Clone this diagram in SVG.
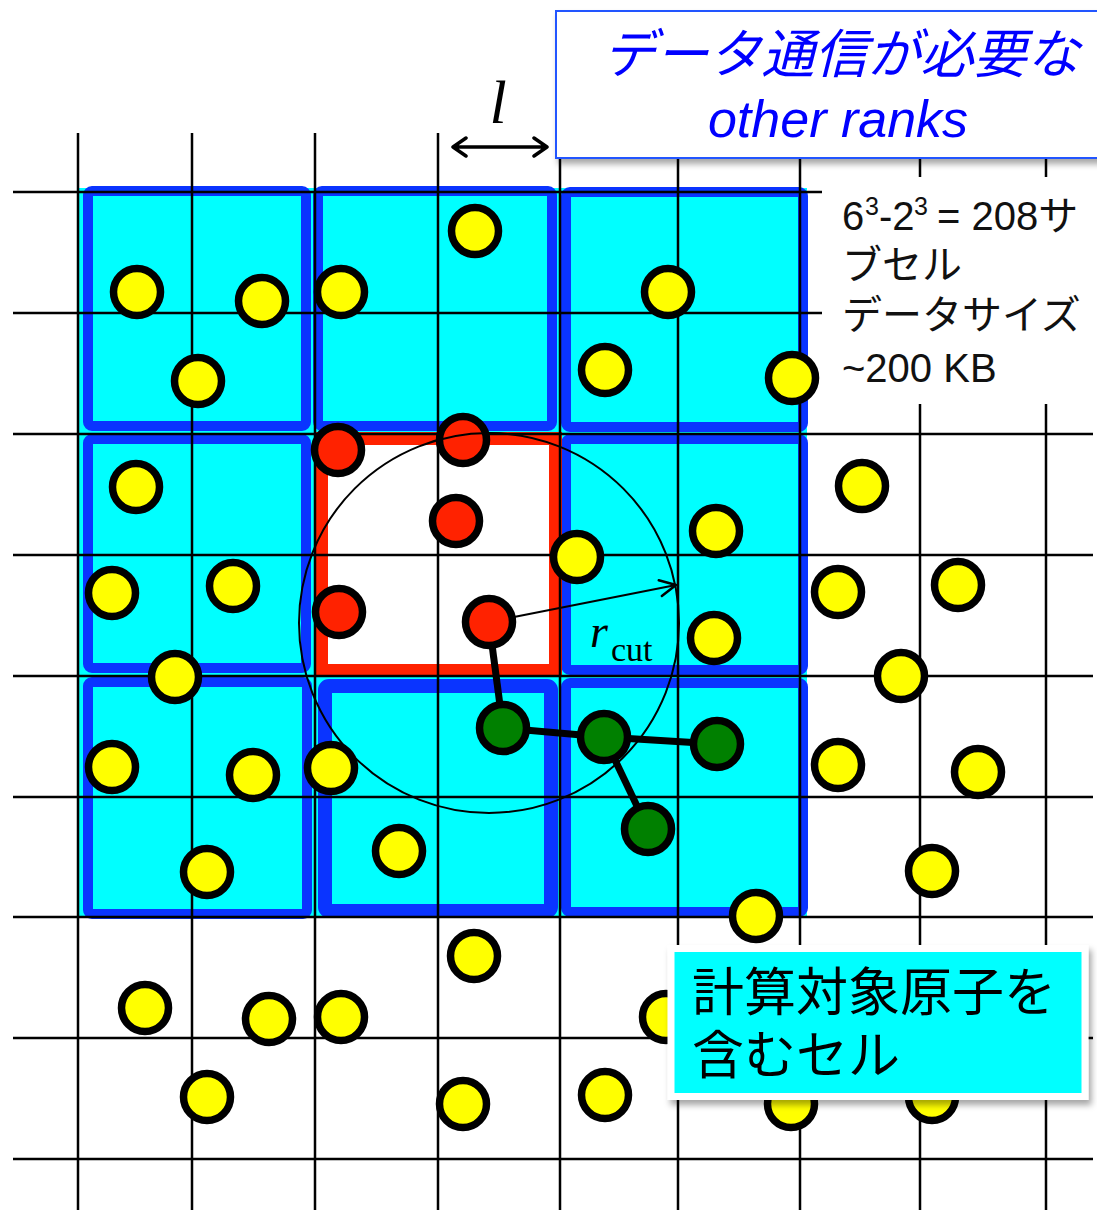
<svg xmlns="http://www.w3.org/2000/svg" width="1097" height="1210" viewBox="0 0 1097 1210">
<defs>
<filter id="sh" x="-10%" y="-10%" width="130%" height="140%">
<feDropShadow dx="3" dy="5" stdDeviation="3" flood-color="#000" flood-opacity="0.35"/>
</filter>
<marker id="ah" viewBox="0 0 20 20" refX="18" refY="10" markerWidth="20" markerHeight="20" markerUnits="userSpaceOnUse" orient="auto">
<path d="M2,2 L18,10 L2,18" fill="none" stroke="#000" stroke-width="2.5" stroke-linecap="round" stroke-linejoin="round"/>
</marker>
</defs>
<style>
.blk{fill:none;stroke:#0a34ff;stroke-width:10}
.g{stroke:#000;stroke-width:2.5}
.y{fill:#ffff00;stroke:#000;stroke-width:7.5}
.r{fill:#ff2200;stroke:#000;stroke-width:7.5}
.gr{fill:#008000;stroke:#000;stroke-width:7.5}
.bond{stroke:#000;stroke-width:7}
.jp{font-family:"Noto Sans CJK JP","Liberation Sans",sans-serif}
.lat{font-family:"Liberation Sans","Noto Sans CJK JP",sans-serif}
</style>
<rect width="1097" height="1210" fill="#fff"/>
<g id="cells">
<rect x="79" y="188" width="728" height="730" fill="#00ffff"/>
<rect x="321" y="438" width="235" height="233" fill="#fff"/>
<rect class="blk" x="88" y="191" width="218" height="235" rx="4"/>
<rect class="blk" x="318" y="191" width="234" height="235" rx="4"/>
<rect class="blk" x="566" y="192" width="237" height="235" rx="4"/>
<rect class="blk" x="88" y="439" width="218" height="229" rx="4"/>
<rect class="blk" x="566" y="439" width="237" height="231" rx="4"/>
<rect class="blk" x="88" y="682" width="219" height="232" rx="4"/>
<rect class="blk" x="325" y="686" width="226" height="225" rx="4" style="stroke-width:14"/>
<rect class="blk" x="566" y="683" width="237" height="229" rx="4"/>
<rect x="321.5" y="438.5" width="234" height="232" fill="none" stroke="#ff2200" stroke-width="13"/>
</g>
<g id="grid" class="g">
<line x1="13" y1="192" x2="1093" y2="192"/>
<line x1="13" y1="313" x2="1093" y2="313"/>
<line x1="13" y1="434" x2="1093" y2="434"/>
<line x1="13" y1="555" x2="1093" y2="555"/>
<line x1="13" y1="676" x2="1093" y2="676"/>
<line x1="13" y1="797" x2="1093" y2="797"/>
<line x1="13" y1="917" x2="1093" y2="917"/>
<line x1="13" y1="1038" x2="1093" y2="1038"/>
<line x1="13" y1="1159" x2="1093" y2="1159"/>
<line x1="78" y1="133" x2="78" y2="1210"/>
<line x1="192" y1="133" x2="192" y2="1210"/>
<line x1="315" y1="133" x2="315" y2="1210"/>
<line x1="438" y1="133" x2="438" y2="1210"/>
<line x1="560" y1="133" x2="560" y2="1210"/>
<line x1="678" y1="133" x2="678" y2="1210"/>
<line x1="800" y1="133" x2="800" y2="1210"/>
<line x1="920" y1="133" x2="920" y2="1210"/>
<line x1="1046" y1="133" x2="1046" y2="1210"/>
</g>
<rect x="822" y="177" width="275" height="227" fill="#fff"/>
<g id="rank-box">
<rect x="556" y="11" width="560" height="147" fill="#fff" stroke="#2255ff" stroke-width="2" filter="url(#sh)"/>
<text class="jp" x="841" y="73" font-size="53" font-style="italic" fill="#0000ff" text-anchor="middle">データ通信が必要な</text>
<text class="lat" x="838" y="137" font-size="52" font-style="italic" fill="#0000ff" text-anchor="middle">other ranks</text>
</g>
<g id="length">
<text x="498" y="123" font-family="Liberation Serif, serif" font-size="62" font-style="italic" text-anchor="middle">l</text>
<path d="M453,147 H547 M466,138 L453,147 L466,156 M534,138 L547,147 L534,156" fill="none" stroke="#000" stroke-width="3.5" stroke-linecap="round" stroke-linejoin="round"/>
</g>
<g id="info" font-size="40" fill="#111">
<text class="lat" x="842" y="230">6</text>
<text class="lat" x="865" y="215" font-size="25">3</text>
<text class="lat" x="879" y="230">-2</text>
<text class="lat" x="914" y="215" font-size="25">3</text>
<text class="lat" x="937" y="230">= 208サ</text>
<text class="jp" x="842" y="279">ブセル</text>
<text class="jp" x="842" y="329">データサイズ</text>
<text class="lat" x="842" y="382">~200 KB</text>
</g>
<g id="connectors">
<line class="bond" x1="489" y1="622" x2="503" y2="728"/>
<line class="bond" x1="503" y1="728" x2="604" y2="737"/>
<line class="bond" x1="604" y1="737" x2="717" y2="744"/>
<line class="bond" x1="604" y1="737" x2="648" y2="829"/>
</g>
<g id="atoms">
<circle class="y" cx="137" cy="292" r="23.5"/>
<circle class="y" cx="262" cy="301" r="23.5"/>
<circle class="y" cx="341" cy="292" r="23.5"/>
<circle class="y" cx="198" cy="381" r="23.5"/>
<circle class="y" cx="475" cy="231" r="23.5"/>
<circle class="y" cx="668" cy="292" r="23.5"/>
<circle class="y" cx="605" cy="370" r="23.5"/>
<circle class="y" cx="792" cy="378" r="23.5"/>
<circle class="y" cx="136" cy="487" r="23.5"/>
<circle class="y" cx="112" cy="593" r="23.5"/>
<circle class="y" cx="233" cy="586" r="23.5"/>
<circle class="y" cx="577" cy="557" r="23.5"/>
<circle class="y" cx="716" cy="531" r="23.5"/>
<circle class="y" cx="862" cy="486" r="23.5"/>
<circle class="y" cx="838" cy="592" r="23.5"/>
<circle class="y" cx="958" cy="585" r="23.5"/>
<circle class="y" cx="714" cy="638" r="23.5"/>
<circle class="y" cx="901" cy="676" r="23.5"/>
<circle class="y" cx="175" cy="677" r="23.5"/>
<circle class="y" cx="112" cy="767" r="23.5"/>
<circle class="y" cx="253" cy="775" r="23.5"/>
<circle class="y" cx="331" cy="768" r="23.5"/>
<circle class="y" cx="399" cy="851" r="23.5"/>
<circle class="y" cx="207" cy="872" r="23.5"/>
<circle class="y" cx="838" cy="765" r="23.5"/>
<circle class="y" cx="978" cy="772" r="23.5"/>
<circle class="y" cx="932" cy="871" r="23.5"/>
<circle class="y" cx="756" cy="916" r="23.5"/>
<circle class="y" cx="474" cy="956" r="23.5"/>
<circle class="y" cx="145" cy="1008" r="23.5"/>
<circle class="y" cx="269" cy="1019" r="23.5"/>
<circle class="y" cx="341" cy="1017" r="23.5"/>
<circle class="y" cx="207" cy="1097" r="23.5"/>
<circle class="y" cx="463" cy="1104" r="23.5"/>
<circle class="y" cx="605" cy="1095" r="23.5"/>
<circle class="y" cx="666" cy="1017" r="23.5"/>
<circle class="y" cx="791" cy="1104" r="23.5"/>
<circle class="y" cx="932" cy="1097" r="23.5"/>
<circle class="r" cx="338" cy="450" r="23.5"/>
<circle class="r" cx="463" cy="440" r="23.5"/>
<circle class="r" cx="456" cy="521" r="23.5"/>
<circle class="r" cx="339" cy="612" r="23.5"/>
<circle class="r" cx="489" cy="622" r="23.5"/>
<circle class="gr" cx="503" cy="728" r="23.5"/>
<circle class="gr" cx="604" cy="737" r="23.5"/>
<circle class="gr" cx="717" cy="744" r="23.5"/>
<circle class="gr" cx="648" cy="829" r="23.5"/>
</g>
<g id="cutoff">
<circle cx="489" cy="623" r="190" fill="none" stroke="#000" stroke-width="2"/>
<line x1="514" y1="617" x2="676" y2="585" stroke="#000" stroke-width="2" marker-end="url(#ah)"/>
<text x="590" y="647" font-family="Liberation Serif, serif" font-size="46" font-style="italic">r</text>
<text x="611" y="661" font-family="Liberation Serif, serif" font-size="34">cut</text>
</g>
<g id="target-label">
<rect x="671" y="948.5" width="414" height="148" fill="#00ffff" stroke="#fff" stroke-width="7" filter="url(#sh)"/>
<text class="jp" x="692" y="1011" font-size="52" fill="#000">計算対象原子を</text>
<text class="jp" x="692" y="1074" font-size="52" fill="#000">含むセル</text>
</g>
</svg>
